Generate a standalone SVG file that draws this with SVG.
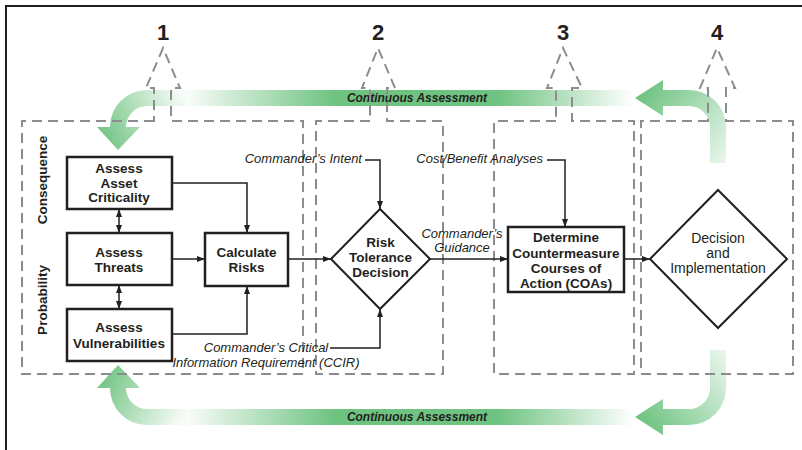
<svg xmlns="http://www.w3.org/2000/svg" width="802" height="450" viewBox="0 0 802 450">
  <defs>
    <style>
      .frame{fill:none;stroke:#231f20;stroke-width:2}
      .zone{fill:none;stroke:#8d8d90;stroke-width:2;stroke-dasharray:10 6}
      .box{fill:#fff;stroke:#231f20;stroke-width:2.5}
      .lbl{font-family:"Liberation Sans",Arial,sans-serif;font-weight:bold;font-size:13.5px;fill:#231f20;text-anchor:middle}
      .plain{font-family:"Liberation Sans",Arial,sans-serif;font-size:14px;fill:#231f20;text-anchor:middle}
      .note{font-family:"Liberation Sans",Arial,sans-serif;font-style:italic;font-size:13px;fill:#231f20}
      .num{font-family:"Liberation Sans",Arial,sans-serif;font-weight:bold;font-size:22px;fill:#231f20;text-anchor:middle}
      .loop{font-family:"Liberation Sans",Arial,sans-serif;font-weight:bold;font-style:italic;font-size:12px;fill:#231f20;text-anchor:middle}
      .link{fill:none;stroke:#231f20;stroke-width:1.5}
    </style>
    <marker id="tip" viewBox="0 0 8 6" refX="8" refY="3" markerWidth="8" markerHeight="6" markerUnits="userSpaceOnUse" orient="auto-start-reverse">
      <path d="M0,0 L8,3 L0,6 Z" fill="#231f20"/>
    </marker>
    <linearGradient id="band" gradientUnits="userSpaceOnUse" x1="180" y1="0" x2="634" y2="0">
      <stop offset="0" stop-color="#6fc381" stop-opacity="0"/>
      <stop offset="0.34" stop-color="#6fc381"/>
      <stop offset="0.70" stop-color="#6fc381"/>
      <stop offset="1" stop-color="#6fc381" stop-opacity="0"/>
    </linearGradient>
    <linearGradient id="bendTL" gradientUnits="userSpaceOnUse" x1="184" y1="98" x2="100" y2="140">
      <stop offset="0" stop-color="#6fc381" stop-opacity="0.05"/>
      <stop offset="1" stop-color="#6fc381"/>
    </linearGradient>
    <linearGradient id="bendBL" gradientUnits="userSpaceOnUse" x1="184" y1="417" x2="100" y2="375">
      <stop offset="0" stop-color="#6fc381" stop-opacity="0.05"/>
      <stop offset="1" stop-color="#6fc381"/>
    </linearGradient>
    <linearGradient id="bendTR" gradientUnits="userSpaceOnUse" x1="722" y1="165" x2="638" y2="98">
      <stop offset="0" stop-color="#6fc381" stop-opacity="0.15"/>
      <stop offset="1" stop-color="#6fc381"/>
    </linearGradient>
    <linearGradient id="bendBR" gradientUnits="userSpaceOnUse" x1="722" y1="350" x2="638" y2="417">
      <stop offset="0" stop-color="#6fc381" stop-opacity="0.15"/>
      <stop offset="1" stop-color="#6fc381"/>
    </linearGradient>
  </defs>

  <!-- outer frame -->
  <path class="frame" d="M6,451 V6 H803"/>

  <!-- continuous assessment loops -->
  <g id="assessment-top">
    <rect x="180" y="90" width="454" height="16" fill="url(#band)"/>
    <path d="M185,90 H147 A37,37 0 0 0 110,127 H97 L118,150 L140,127 H126 A21,21 0 0 1 147,106 H185 Z" fill="url(#bendTL)"/>
    <path d="M726,163 V127 A37,37 0 0 0 689,90 H663 V80 L635,98 L663,116 V106 H689 A21,21 0 0 1 710,127 V163 Z" fill="url(#bendTR)"/>
    <text class="loop" x="417" y="102">Continuous Assessment</text>
  </g>
  <g id="assessment-bottom">
    <rect x="180" y="409" width="454" height="16" fill="url(#band)"/>
    <path d="M185,425 H147 A37,37 0 0 1 110,388 H97 L118,365 L140,388 H126 A21,21 0 0 0 147,409 H185 Z" fill="url(#bendBL)"/>
    <path d="M710,350 V388 A21,21 0 0 1 689,409 H663 V399 L635,417 L663,435 V425 H689 A37,37 0 0 0 726,388 V350 Z" fill="url(#bendBR)"/>
    <text class="loop" x="417" y="421">Continuous Assessment</text>
  </g>

  <!-- step zones with dashed outline arrows -->
  <g id="step-1">
    <path class="zone" d="M154,121 H22 V374 H303 V121 H171 V88 H180 L163,48 L146,88 H154 Z"/>
    <text class="num" x="163" y="40">1</text>
  </g>
  <g id="step-2">
    <path class="zone" d="M370,121 H316 V374 H443 V121 H387 V88 H395 L378,48 L362,88 H370 Z"/>
    <text class="num" x="378" y="40">2</text>
  </g>
  <g id="step-3">
    <path class="zone" d="M556,121 H494 V374 H634 V121 H572 V88 H582 L563,48 L547,88 H556 Z"/>
    <text class="num" x="563" y="40">3</text>
  </g>
  <g id="step-4">
    <path class="zone" d="M708,121 H641 V374 H793 V121 H726 V88 H735 L717,48 L700,88 H708 Z"/>
    <text class="num" x="717" y="40">4</text>
  </g>

  <!-- side labels -->
  <text class="lbl" transform="translate(46.5,180) rotate(-90)" font-size="13">Consequence</text>
  <text class="lbl" transform="translate(46.5,300) rotate(-90)">Probability</text>

  <!-- connectors -->
  <g id="connectors">
    <path class="link" d="M172,183 H247 V233" marker-end="url(#tip)"/>
    <path class="link" d="M172,259 H205" marker-end="url(#tip)"/>
    <path class="link" d="M172,334 H247 V286" marker-end="url(#tip)"/>
    <path class="link" d="M119,209 V233" marker-start="url(#tip)" marker-end="url(#tip)"/>
    <path class="link" d="M119,285 V309" marker-start="url(#tip)" marker-end="url(#tip)"/>
    <path class="link" d="M288,259 H331" marker-end="url(#tip)"/>
    <path class="link" d="M365,160 H380 V209" marker-end="url(#tip)"/>
    <path class="link" d="M330,348 H380 V309" marker-end="url(#tip)"/>
    <path class="link" d="M430,259 H508" marker-end="url(#tip)"/>
    <path class="link" d="M547,160 H565 V227" marker-end="url(#tip)"/>
    <path class="link" d="M624,259 H650" marker-end="url(#tip)"/>
  </g>

  <!-- nodes -->
  <g id="asset-criticality">
    <rect class="box" x="67" y="157" width="105" height="52"/>
    <text class="lbl" x="119" y="172.5">Assess</text>
    <text class="lbl" x="119" y="187.5">Asset</text>
    <text class="lbl" x="119" y="202">Criticality</text>
  </g>
  <g id="threats">
    <rect class="box" x="67" y="233" width="105" height="52"/>
    <text class="lbl" x="119" y="256.5">Assess</text>
    <text class="lbl" x="119" y="271.5">Threats</text>
  </g>
  <g id="vulnerabilities">
    <rect class="box" x="67" y="309" width="105" height="52"/>
    <text class="lbl" x="119" y="332">Assess</text>
    <text class="lbl" x="119" y="347.5">Vulnerabilities</text>
  </g>
  <g id="calculate-risks">
    <rect class="box" x="205" y="233" width="83" height="53"/>
    <text class="lbl" x="246.5" y="256.5">Calculate</text>
    <text class="lbl" x="246.5" y="271.5">Risks</text>
  </g>
  <g id="risk-tolerance">
    <polygon points="331,259 380,209 430,259 380,309" fill="#fff" stroke="#231f20" stroke-width="2"/>
    <text class="lbl" x="380.5" y="246.5">Risk</text>
    <text class="lbl" x="380.5" y="261.5">Tolerance</text>
    <text class="lbl" x="380.5" y="276.5">Decision</text>
  </g>
  <g id="countermeasures">
    <rect class="box" x="508" y="227" width="116" height="65" stroke-width="3"/>
    <text class="lbl" x="566" y="242">Determine</text>
    <text class="lbl" x="566" y="257.5">Countermeasure</text>
    <text class="lbl" x="566" y="273">Courses of</text>
    <text class="lbl" x="566" y="288">Action (COAs)</text>
  </g>
  <g id="implementation">
    <polygon points="650,259 718,190 787,259 718,328" fill="#fff" stroke="#231f20" stroke-width="2"/>
    <text class="plain" x="718" y="243">Decision</text>
    <text class="plain" x="718" y="258">and</text>
    <text class="plain" x="718" y="273">Implementation</text>
  </g>

  <!-- input notes -->
  <g id="notes">
    <text class="note" x="362" y="163" text-anchor="end">Commander’s Intent</text>
    <text class="note" x="543" y="163" text-anchor="end">Cost/Benefit Analyses</text>
    <text class="note" x="266" y="352" text-anchor="middle">Commander’s Critical</text>
    <text class="note" x="266" y="367" text-anchor="middle">Information Requirement (CCIR)</text>
    <text class="note" x="462" y="238" text-anchor="middle">Commander’s</text>
    <text class="note" x="462" y="252" text-anchor="middle">Guidance</text>
  </g>
</svg>
